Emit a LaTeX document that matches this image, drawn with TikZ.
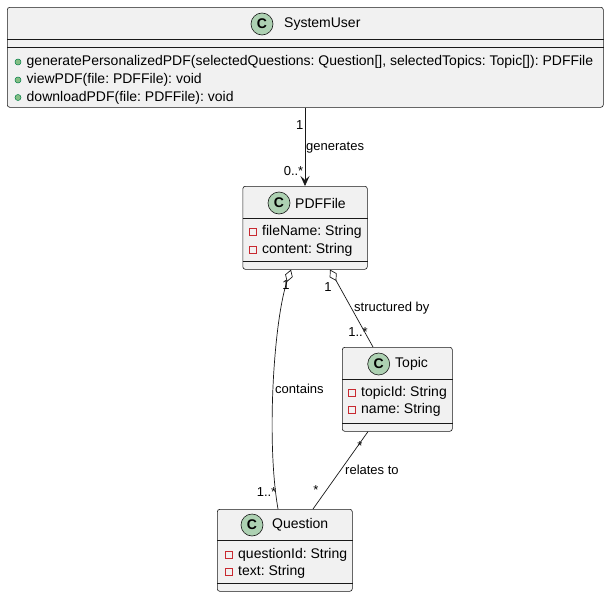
\documentclass[tikz,border=0pt]{standalone}
\usepackage{fontspec}
\setmainfont{Liberation Sans}
\usetikzlibrary{arrows.meta,calc}
\definecolor{boxfill}{HTML}{F1F1F1}
\definecolor{boxline}{HTML}{181818}
\definecolor{cfill}{HTML}{ADD1B2}
\definecolor{pubfill}{HTML}{84BE84}
\definecolor{publine}{HTML}{038048}
\definecolor{privline}{HTML}{C82930}
\frenchspacing
\begin{document}
\begin{tikzpicture}[x=1pt,y=-1pt,
  classbox/.style={draw=boxline, fill=boxfill, line width=0.6pt, rounded corners=2.5pt, inner sep=0pt, anchor=north west},
  sepline/.style={draw=boxline, line width=0.6pt},
  ctitle/.style={anchor=west, inner sep=0pt, font=\fontsize{14}{16}\selectfont, text=black},
  attr/.style={anchor=west, inner sep=0pt, font=\fontsize{14}{16}\selectfont, text=black},
  cicon/.style={circle, draw=boxline, fill=cfill, line width=0.6pt, minimum size=22pt, inner sep=0pt, font=\bfseries\fontsize{14}{14}\selectfont},
  pub/.style={circle, draw=publine, fill=pubfill, line width=0.5pt, minimum size=6pt, inner sep=0pt},
  priv/.style={rectangle, draw=privline, line width=0.6pt, minimum size=7pt, inner sep=0pt},
  elabel/.style={inner sep=0pt, font=\fontsize{13}{15}\selectfont, text=black},
  assoc/.style={draw=boxline, line width=0.7pt},
  agg/.style={assoc, {Diamond[open, length=13pt, width=8pt, line width=0.7pt]}-}
]
\useasboundingbox (0,0) rectangle (608,597);
\fill[white] (0,0) rectangle (608,597);

% SystemUser
\node[classbox, minimum width=596pt, minimum height=100pt] (su) at (7,7) {};
\draw[sepline] (su.west |- 0,39) -- (su.east |- 0,39);
\draw[sepline] (su.west |- 0,47.5) -- (su.east |- 0,47.5);
\node[cicon] (suicon) at (262,24) {C};
\node[ctitle] (sutitle) at (284,24) {SystemUser};
\node[pub] (sup1) at (18,62) {};
\node[attr] (sum1) at (26.5,62) {generatePersonalizedPDF(selectedQuestions: Question[], selectedTopics: Topic[]): PDFFile};
\node[pub] (sup2) at (18,80) {};
\node[attr] (sum2) at (26.5,80) {viewPDF(file: PDFFile): void};
\node[pub] (sup3) at (18,97.5) {};
\node[attr] (sum3) at (26.5,97.5) {downloadPDF(file: PDFFile): void};

% PDFFile
\node[classbox, minimum width=124.5pt, minimum height=83pt] (pdf) at (242.5,186) {};
\draw[sepline] (pdf.west |- 0,218) -- (pdf.east |- 0,218);
\draw[sepline] (pdf.west |- 0,261) -- (pdf.east |- 0,261);
\node[cicon] (pdficon) at (279,203) {C};
\node[ctitle] (pdftitle) at (295,203) {PDFFile};
\node[priv] (pdfp1) at (253,232) {};
\node[attr] (pdfa1) at (262,232) {fileName: String};
\node[priv] (pdfp2) at (253,250) {};
\node[attr] (pdfa2) at (262,250) {content: String};

% Topic
\node[classbox, minimum width=110pt, minimum height=84pt] (topic) at (342,347) {};
\draw[sepline] (topic.west |- 0,379) -- (topic.east |- 0,379);
\draw[sepline] (topic.west |- 0,423) -- (topic.east |- 0,423);
\node[cicon] (topicicon) at (378.7,364) {C};
\node[ctitle] (topictitle) at (395,364) {Topic};
\node[priv] (topicp1) at (352,393) {};
\node[attr] (topica1) at (361,393) {topicId: String};
\node[priv] (topicp2) at (352,410) {};
\node[attr] (topica2) at (361,410) {name: String};

% Question
\node[classbox, minimum width=135pt, minimum height=82pt] (q) at (217,509) {};
\draw[sepline] (q.west |- 0,540) -- (q.east |- 0,540);
\draw[sepline] (q.west |- 0,583) -- (q.east |- 0,583);
\node[cicon] (qicon) at (252,525) {C};
\node[ctitle] (qtitle) at (272,525) {Question};
\node[priv] (qp1) at (228.7,555) {};
\node[attr] (qa1) at (238,555) {questionId: String};
\node[priv] (qp2) at (228.7,572) {};
\node[attr] (qa2) at (238,572) {text: String};

% SystemUser -> PDFFile
\draw[assoc, -{Stealth[length=10pt, width=9pt, inset=4pt]}] (305,0 |- su.south) -- (305,0 |- pdf.north);
\node[elabel, anchor=east] (m1) at (303.5,125) {1};
\node[elabel, anchor=west] (l1) at (306,148) {generates};
\node[elabel, anchor=east] (m2) at (303.5,171) {0..*};

% PDFFile <>-- Question (contains)
\draw[agg] (291,0 |- pdf.south) .. controls (274,320) and (266,440) .. (278,0 |- q.north);
\node[elabel, anchor=center] (m3) at (286,285) {1};
\node[elabel, anchor=west] (l2) at (275,389) {contains};
\node[elabel, anchor=east] (m4) at (276.5,492) {1..*};

% PDFFile <>-- Topic (structured by)
\draw[agg] (330,0 |- pdf.south) -- (373,0 |- topic.north);
\node[elabel, anchor=center] (m5) at (328,287) {1};
\node[elabel, anchor=west] (l3) at (354,308) {structured by};
\node[elabel, anchor=east] (m6) at (368,332) {1..*};

% Topic -- Question (relates to)
\draw[assoc] (368,0 |- topic.south) -- (313,0 |- q.north);
\node[elabel, anchor=center] (m7) at (360,446) {*};
\node[elabel, anchor=west] (l4) at (345,470) {relates to};
\node[elabel, anchor=center] (m8) at (316,490) {*};
\end{tikzpicture}
\end{document}
